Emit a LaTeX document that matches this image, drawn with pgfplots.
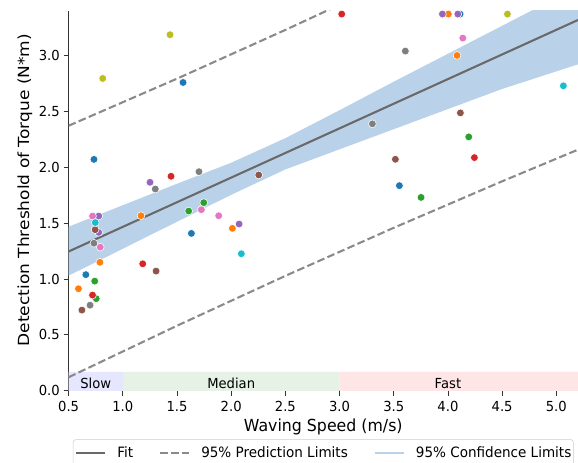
\documentclass[border=0pt]{standalone}
\usepackage{fontspec}
\setmainfont{DejaVu Sans}[FakeStretch=0.95]
\newfontfamily\ylabfont{DejaVu Sans}
\usepackage{pgfplots}
\pgfplotsset{compat=1.18}
\usepgfplotslibrary{fillbetween}

\definecolor{cblue}{HTML}{1F77B4}
\definecolor{corange}{HTML}{FF7F0E}
\definecolor{cgreen}{HTML}{2CA02C}
\definecolor{cred}{HTML}{D62728}
\definecolor{cpurple}{HTML}{9467BD}
\definecolor{cbrown}{HTML}{8C564B}
\definecolor{cpink}{HTML}{E377C2}
\definecolor{cgray}{HTML}{7F7F7F}
\definecolor{colive}{HTML}{BCBD22}
\definecolor{ccyan}{HTML}{17BECF}
\definecolor{cband}{RGB}{186,210,233}
\definecolor{fitc}{RGB}{105,105,105}
\definecolor{predc}{RGB}{138,138,138}
\definecolor{slowc}{RGB}{230,230,255}
\definecolor{medc}{RGB}{230,242,230}
\definecolor{fastc}{RGB}{255,230,230}

\pgfplotsset{
  pt/.style={only marks, mark=*, mark size=2.8bp, forget plot,
    mark options={draw=white, fill=#1, line width=0.4bp}},
}

\begin{document}
\begin{tikzpicture}
\begin{axis}[
  scale only axis, width=5.094in, height=3.801in,
  at={(0,0)}, anchor=south west,
  xmin=0.5, xmax=5.2, ymin=0, ymax=3.4,
  axis x line*=bottom, axis y line*=left,
  axis line style={black!80, line width=0.6pt},
  tick align=outside, major tick length=0.0486in,
  tick style={black!80, line width=0.6pt},
  xtick={0.5,1.0,1.5,2.0,2.5,3.0,3.5,4.0,4.5,5.0},
  ytick={0,0.5,1.0,1.5,2.0,2.5,3.0},
  /pgf/number format/.cd, fixed, fixed zerofill, precision=1, assume math mode=true,
  /pgfplots/.cd,
  tick label style={font=\fontsize{10}{12}\selectfont},
  xticklabel style={anchor=north, inner sep=0pt, yshift=-0.05in},
  yticklabel style={anchor=east, inner sep=0pt, xshift=-0.037in},
  xlabel={Waving Speed (m/s)},
  ylabel={\scalebox{1}[0.9]{Detection Threshold of Torque (N*m)}},
  every axis x label/.style={at={(axis description cs:0.5,0)}, yshift=-0.28in,
    anchor=north, inner sep=0pt, font=\fontsize{12}{14}\selectfont},
  every axis y label/.style={at={(axis description cs:0,0.528)}, xshift=-0.436in,
    rotate=90, anchor=center, inner sep=0pt, font=\ylabfont\fontsize{12.3}{14}\selectfont},
  legend columns=3,
  legend style={at={(axis description cs:0.5,0)}, anchor=north, yshift=-0.485in,
    draw=black!20, rounded corners=2pt, font=\fontsize{10.3}{12}\selectfont,
    inner xsep=0.02in, inner ysep=0.067in, nodes={inner sep=0pt},
    /tikz/every odd column/.append style={column sep=0.113in},
    /tikz/every even column/.append style={column sep=0.26in}},
  legend image code/.code={\draw[#1] (0in,0in) -- (0.287in,0in);},
]
% speed regions
\addplot[fill=slowc, draw=none, forget plot] coordinates {(0.5,0)(1.0,0)(1.0,0.17)(0.5,0.17)} \closedcycle;
\addplot[fill=medc, draw=none, forget plot] coordinates {(1.0,0)(3.0,0)(3.0,0.17)(1.0,0.17)} \closedcycle;
\addplot[fill=fastc, draw=none, forget plot] coordinates {(3.0,0)(5.2,0)(5.2,0.17)(3.0,0.17)} \closedcycle;

% confidence band
\addplot[draw=none, name path=cup, forget plot] coordinates {
  (0.5,1.468)(1.0,1.66)(1.5,1.852)(2.0,2.04)(2.5,2.26)(3.0,2.51)(3.5,2.765)(4.0,3.015)(4.5,3.265)(5.2,3.615)};
\addplot[draw=none, name path=clo, forget plot] coordinates {
  (0.5,1.03)(1.0,1.27)(1.5,1.512)(2.0,1.753)(2.5,1.98)(3.0,2.16)(3.5,2.34)(4.0,2.52)(4.5,2.70)(5.2,2.92)};
\addplot[fill=cband, draw=none, forget plot] fill between[of=cup and clo];

% fit and prediction limits
\addplot[fitc, line width=1.5bp, forget plot] coordinates {(0.5,1.246)(5.2,3.317)};
\addplot[predc, line width=1.5bp, dash pattern=on 5.5bp off 2.4bp, forget plot] coordinates {
  (0.5,2.371)(1.5,2.792)(2.5,3.228)(3.5,3.678)(4.5,4.144)(5.2,4.477)};
\addplot[predc, line width=1.5bp, dash pattern=on 5.5bp off 2.4bp, forget plot] coordinates {
  (0.5,0.121)(1.5,0.582)(2.5,1.028)(3.5,1.458)(4.5,1.874)(5.2,2.157)};

% measurements
\addplot[pt=cblue] coordinates {(0.734,2.07)(0.659,1.039)(1.556,2.758)(1.633,1.408)(3.552,1.835)(4.112,3.37)};
\addplot[pt=corange] coordinates {(0.591,0.913)(0.789,1.15)(1.168,1.566)(2.011,1.453)(4.004,3.37)(4.084,3.0)};
\addplot[pt=cgreen] coordinates {(0.741,0.981)(0.755,0.824)(1.608,1.608)(1.747,1.683)(3.752,1.73)(4.192,2.271)};
\addplot[pt=cred] coordinates {(0.721,0.856)(0.745,1.452)(1.184,1.136)(1.445,1.919)(3.02,3.37)(4.244,2.086)};
\addplot[pt=cpurple] coordinates {(0.778,1.563)(0.778,1.417)(1.251,1.865)(2.073,1.492)(3.949,3.37)(4.091,3.37)};
\addplot[pt=cbrown] coordinates {(0.623,0.722)(0.745,1.441)(1.307,1.071)(2.254,1.931)(3.515,2.071)(4.115,2.486)};
\addplot[pt=cpink] coordinates {(0.721,1.563)(0.792,1.285)(1.725,1.62)(1.885,1.566)(4.137,3.155)};
\addplot[pt=cgray] coordinates {(0.734,1.32)(0.698,0.766)(1.30,1.805)(1.703,1.96)(3.303,2.388)(3.607,3.039)};
\addplot[pt=colive] coordinates {(0.815,2.794)(1.436,3.185)(4.549,3.37)};
\addplot[pt=ccyan] coordinates {(0.746,1.505)(2.094,1.226)(5.065,2.728)};

\node[anchor=base, inner sep=0pt, font=\fontsize{10}{12}\selectfont] at (axis cs:0.75,0.022) {Slow};
\node[anchor=base, inner sep=0pt, font=\fontsize{10}{12}\selectfont] at (axis cs:2.0,0.022) {Median};
\node[anchor=base, inner sep=0pt, font=\fontsize{10}{12}\selectfont] at (axis cs:4.0,0.022) {Fast};

\addlegendimage{fitc, line width=1.5bp}
\addlegendentry{Fit}
\addlegendimage{predc, line width=1.5bp, dash pattern=on 5.5bp off 2.4bp}
\addlegendentry{95\% Prediction Limits}
\addlegendimage{cband, line width=1.5bp}
\addlegendentry{95\% Confidence Limits}
\end{axis}
\pgfresetboundingbox
\path[use as bounding box] (-0.686in,-0.722in) rectangle (5.094in,3.908in);
\end{tikzpicture}
\end{document}
